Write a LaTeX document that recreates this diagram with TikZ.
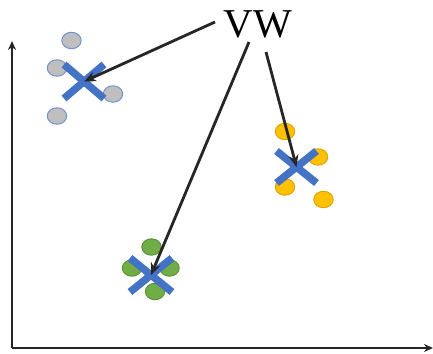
\documentclass[tikz,border=0pt]{standalone}
\usepackage{fontspec}
\setmainfont{Liberation Serif}
\usetikzlibrary{arrows.meta,calc,shapes.geometric}
\definecolor{crossblue}{HTML}{4472C4}
\definecolor{dotgray}{HTML}{BFBFBF}
\definecolor{dotorange}{HTML}{FFC000}
\definecolor{edgeorange}{HTML}{D9A300}
\definecolor{dotgreen}{HTML}{70AD47}
\definecolor{edgegreen}{HTML}{5B8F3A}
\tikzset{
  dot/.style={ellipse, minimum width=19.5pt, minimum height=16.5pt, inner sep=0pt, line width=0.9pt},
  graydot/.style={dot, draw=crossblue!80, fill=dotgray},
  orangedot/.style={dot, draw=edgeorange, fill=dotorange},
  greendot/.style={dot, draw=edgegreen, fill=dotgreen},
  cross/.style={draw=crossblue, line width=7.5pt},
  ptr/.style={draw=black!85, line width=2.8pt, -{Stealth[length=12pt,width=10pt]}},
  axis/.style={draw=black!85, line width=2.5pt, -{Stealth[length=9pt,width=8pt]}}
}
\begin{document}
\begin{tikzpicture}[x=1pt,y=-1pt]
\useasboundingbox (0,0) rectangle (433,353);
\fill[white] (0,0) rectangle (433,353);

% axes
\coordinate (origin) at (12,348);
\coordinate (ytop) at (12,41);
\coordinate (xend) at (433,348);
\draw[axis] (origin) -- (ytop);
\draw[axis] (origin) -- (xend);

% gray cluster
\node[graydot] (g1) at (71.5,40.5) {};
\node[graydot] (g2) at (57,68) {};
\node[graydot] (g3) at (113,94) {};
\node[graydot] (g4) at (57,116) {};
\coordinate (gc) at (84,81.5);
\draw[cross] ($(gc)+(-20,-17)$) -- ($(gc)+(20,17)$);
\draw[cross] ($(gc)+(-20,17)$) -- ($(gc)+(20,-17)$);

% orange cluster
\node[orangedot] (o1) at (285,131.5) {};
\node[orangedot] (o2) at (318,157) {};
\node[orangedot] (o3) at (285,187) {};
\node[orangedot] (o4) at (323.5,199.5) {};
\coordinate (oc) at (296.5,167);
\draw[cross] ($(oc)+(-20,-16)$) -- ($(oc)+(20,16)$);
\draw[cross] ($(oc)+(-20,16)$) -- ($(oc)+(20,-16)$);

% green cluster
\node[greendot] (e1) at (151.5,247) {};
\node[greendot] (e2) at (132,268) {};
\node[greendot] (e3) at (169.5,268) {};
\node[greendot] (e4) at (155,291.5) {};
\coordinate (ec) at (151,275);
\draw[cross] ($(ec)+(-21,-17)$) -- ($(ec)+(21,17)$);
\draw[cross] ($(ec)+(-21,17)$) -- ($(ec)+(21,-17)$);

% label and pointers
\node[font=\fontsize{41}{41}\selectfont, inner sep=0pt] (vw) at (258,24) {VW};
\coordinate (s1) at (215,22);
\coordinate (s2) at (249,42);
\coordinate (s3) at (266,52);
\draw[ptr] (s1) -- (gc);
\draw[ptr] (s2) -- (ec);
\draw[ptr] (s3) -- (oc);
\end{tikzpicture}
\end{document}
